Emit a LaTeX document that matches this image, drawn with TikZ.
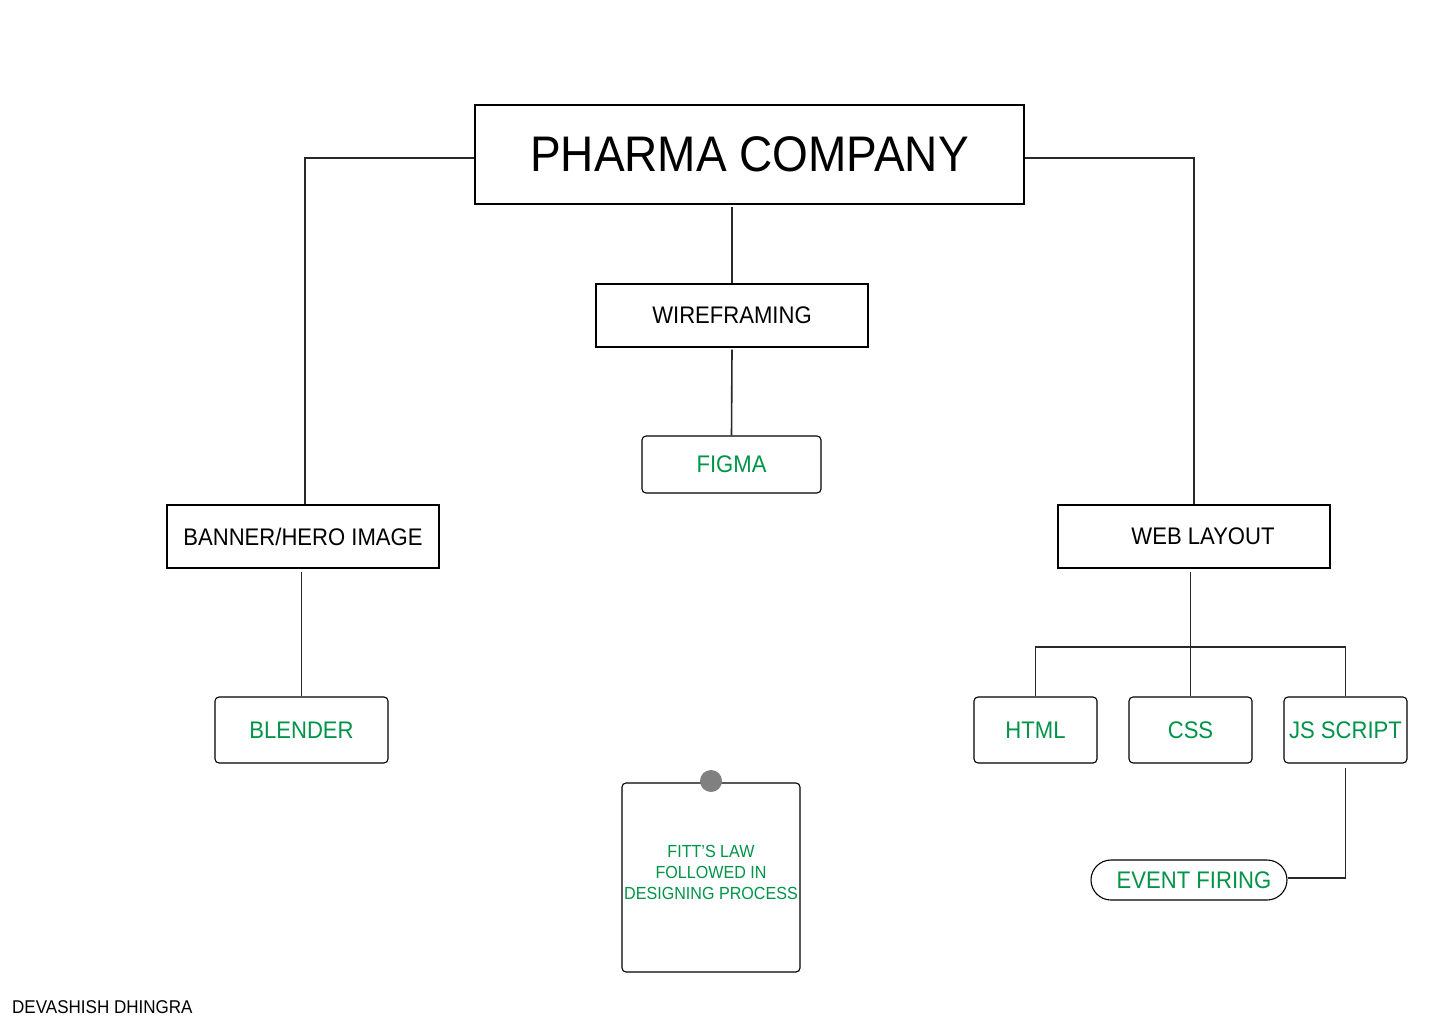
\documentclass[tikz,border=0pt]{standalone}
\usepackage{fontspec}
\setmainfont[FakeStretch=0.92]{Liberation Sans}
\definecolor{tgreen}{RGB}{0,148,72}
\definecolor{lnk}{RGB}{40,40,40}
\definecolor{pin}{RGB}{128,128,128}
\begin{document}
\begin{tikzpicture}[x=1pt,y=-1pt,
  sqbox/.style={draw=black,line width=1.3pt,inner sep=0pt,minimum width=272pt,minimum height=63pt,font=\fontsize{24}{28}\selectfont},
  rbox/.style={draw=black,line width=1.1pt,rounded corners=4pt,inner sep=0pt,minimum height=66pt,text=tgreen,font=\fontsize{24}{28}\selectfont},
  link/.style={draw=lnk,line width=1.6pt}]
\useasboundingbox (0,0) rectangle (1440,1024);
\fill[white] (0,0) rectangle (1440,1024);

\node[draw=black,line width=1.3pt,inner sep=0pt,minimum width=549pt,minimum height=99pt,font=\fontsize{50}{56}\selectfont] (pharma) at (749.5,154.5) {PHARMA COMPANY};
\node[sqbox] (wire) at (732,315.5) {\raisebox{-1.5pt}{WIREFRAMING}};
\node[rbox,minimum width=179pt,minimum height=57pt] (figma) at (731.5,464.5) {\raisebox{-1.5pt}{FIGMA}};
\node[sqbox] (banner) at (303,536.5) {BANNER/HERO IMAGE};
\node[rbox,minimum width=173pt] (blender) at (301.5,730) {\raisebox{-1pt}{BLENDER}};
\node[sqbox] (web) at (1194,536.5) {\hspace*{18pt}WEB LAYOUT};
\node[rbox,minimum width=123pt] (html) at (1035.5,730) {\raisebox{-1pt}{HTML}};
\node[rbox,minimum width=123pt] (css) at (1190.5,730) {\raisebox{-1pt}{CSS}};
\node[rbox,minimum width=123pt] (js) at (1345.5,730) {\raisebox{-1pt}{JS SCRIPT}};
\node[rbox,minimum width=196pt,minimum height=40pt,rounded corners=20pt] (event) at (1189,880) {\hspace*{10pt}\raisebox{-1pt}{EVENT FIRING}};

\node[draw=black,line width=1.1pt,rounded corners=4pt,inner sep=0pt,minimum width=178pt,minimum height=189pt] (note) at (711,877.5) {};
\node[text=tgreen,align=center,inner sep=0pt,font=\fontsize{17.5}{21}\selectfont] (notetext) at (711,872) {FITT’S LAW\\FOLLOWED IN\\DESIGNING PROCESS};
\node[circle,fill=pin,inner sep=0pt,minimum size=22pt] (pinpt) at (711,781) {};

\node[anchor=west,inner sep=0pt,font=\fontsize{18.5}{21}\selectfont] (author) at (12,1007) {DEVASHISH DHINGRA};

\coordinate (bus) at (1190.5,647);

\draw[link] ([yshift=-3.5pt]pharma.west) -| ([xshift=2pt]banner.north);
\draw[link] ([yshift=-3.5pt]pharma.east) -| (web.north);
\draw[link] (wire.north |- pharma.south) ++(0,2) -- (wire.north);
\draw[link] (wire.south) ++(0,2) -- (figma.north);
\draw[link] (blender.north |- banner.south) ++(0,3) -- (blender.north);
\draw[link] (css.north |- web.south) ++(0,3) -- (css.north);
\draw[link] (html.north) |- (bus) -| (js.north);
\draw[link] (js.south) ++(0,4) |- ([yshift=2pt]event.east);
\end{tikzpicture}
\end{document}
